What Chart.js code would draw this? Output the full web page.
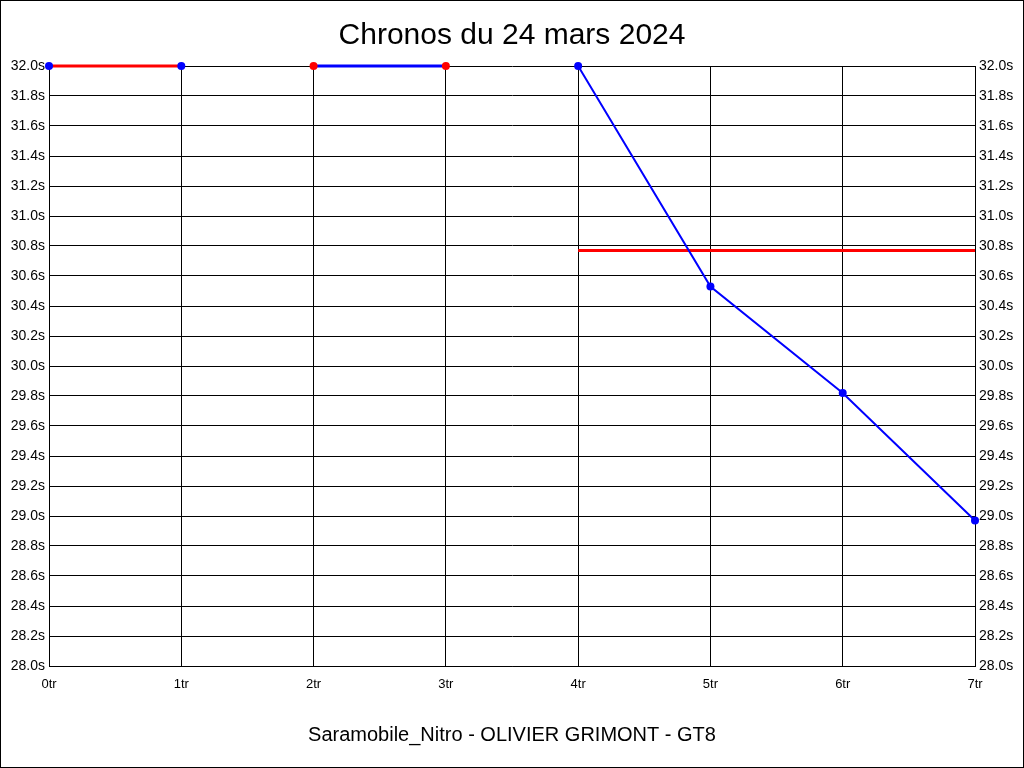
<!DOCTYPE html>
<html>
<head>
<meta charset="utf-8">
<script src="https://cdn.jsdelivr.net/npm/chart.js@4/dist/chart.umd.min.js"></script>
<style>
  html, body { margin: 0; padding: 0; background: #fff; }
  #wrap { width: 1024px; height: 768px; position: relative; }
</style>
</head>
<body>
<div id="wrap"><canvas id="c" width="1024" height="768"></canvas></div>
<script>
// ---- data ----
const lapLabels = ['0tr', '1tr', '2tr', '3tr', '4tr', '5tr', '6tr', '7tr'];
const segmentA = [32.0, 32.0, null, null, null, null, null, null];      // red line, blue points
const segmentB = [null, null, 32.0, 32.0, null, null, null, null];      // blue line, red points
const lapTimes = [null, null, null, null, 32.0, 30.53, 29.82, 28.97];  // blue line
const averageLine = [null, null, null, null, 30.77, 30.77, 30.77, 30.77]; // red average
const yMin = 28.0, yMax = 32.0, yStep = 0.2;
const chartTitle = 'Chronos du 24 mars 2024';
const footerText = 'Saramobile_Nitro - OLIVIER GRIMONT - GT8';

const FONT = "'Liberation Sans', Arial, sans-serif";

const framePlugin = {
  id: 'frame',
  afterDraw(chart) {
    const ctx = chart.ctx;
    ctx.save();
    ctx.strokeStyle = '#000';
    ctx.lineWidth = 1;
    ctx.strokeRect(0.5, 0.5, chart.width - 1, chart.height - 1);
    ctx.restore();
  }
};

const tickFmt = v => Number(v).toFixed(1) + 's';

new Chart(document.getElementById('c'), {
  type: 'line',
  data: {
    labels: lapLabels,
    datasets: [
      {
        data: segmentA, borderColor: '#ff0000', borderWidth: 3,
        pointBackgroundColor: '#0000ff', pointBorderColor: '#0000ff',
        pointRadius: 4, pointBorderWidth: 0, clip: false, spanGaps: false, yAxisID: 'y'
      },
      {
        data: segmentB, borderColor: '#0000ff', borderWidth: 3,
        pointBackgroundColor: '#ff0000', pointBorderColor: '#ff0000',
        pointRadius: 4, pointBorderWidth: 0, clip: false, spanGaps: false, yAxisID: 'y'
      },
      {
        data: lapTimes, borderColor: '#0000ff', borderWidth: 2,
        pointBackgroundColor: '#0000ff', pointBorderColor: '#0000ff',
        pointRadius: 4, pointBorderWidth: 0, clip: false, spanGaps: false, yAxisID: 'y'
      },
      {
        data: averageLine, borderColor: '#ff0000', borderWidth: 3,
        pointRadius: 0, clip: false, spanGaps: false, yAxisID: 'y'
      }
    ]
  },
  options: {
    responsive: false,
    animation: false,
    devicePixelRatio: 1,
    layout: { padding: 0 },
    elements: { line: { tension: 0 } },
    plugins: {
      legend: { display: false },
      tooltip: { enabled: false },
      title: {
        display: true, text: chartTitle, color: '#000',
        font: { family: FONT, size: 30, weight: 'normal', lineHeight: 1.2 },
        padding: { top: 18, bottom: 12 }
      }
    },
    scales: {
      x: {
        type: 'category',
        offset: false,
        grid: { color: '#000', lineWidth: 1, drawTicks: false },
        border: { color: '#000', width: 1 },
        ticks: {
          color: '#000', font: { family: FONT, size: 13 }, padding: 11,
          maxRotation: 0, minRotation: 0, autoSkip: false
        },
        title: {
          display: true, text: footerText, color: '#000',
          font: { family: FONT, size: 20, lineHeight: 1.2 },
          padding: { top: 0, bottom: 21 }
        },
        afterFit(s) { s.height = 102; }
      },
      y: {
        position: 'left', min: yMin, max: yMax,
        grid: { color: '#000', lineWidth: 1, drawTicks: false },
        border: { color: '#000', width: 1 },
        ticks: {
          stepSize: yStep, color: '#000', font: { family: FONT, size: 14 },
          padding: 4, callback: tickFmt, autoSkip: false
        },
        afterFit(s) { s.width = 49; }
      },
      y2: {
        position: 'right', min: yMin, max: yMax,
        grid: { display: false, drawTicks: false },
        border: { color: '#000', width: 1 },
        ticks: {
          stepSize: yStep, color: '#000', font: { family: FONT, size: 14 },
          padding: 4, callback: tickFmt, autoSkip: false
        },
        afterFit(s) { s.width = 49; }
      }
    }
  },
  plugins: [framePlugin]
});
</script>
</body>
</html>
